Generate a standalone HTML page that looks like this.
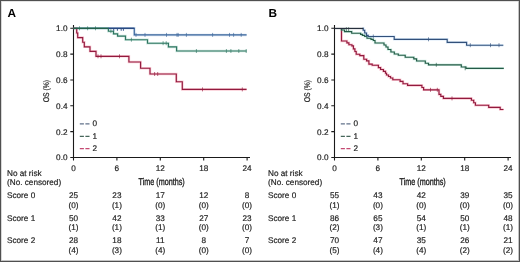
<!DOCTYPE html>
<html><head><meta charset="utf-8"><style>
html,body{margin:0;padding:0;background:#fff;}
svg{display:block;will-change:transform;}
text{font-family:"Liberation Sans", sans-serif;text-rendering:geometricPrecision;}
.t{stroke:#222;stroke-width:0.18;}
</style></head><body>
<svg width="520" height="262" viewBox="0 0 520 262">
<rect x="0" y="0" width="520" height="262" fill="#fff"/>
<text x="7.4" y="16.9" font-size="11.8" font-weight="bold" fill="#000">A</text>
<path d="M73.5,25 V157.5 H250" fill="none" stroke="#1a1a1a" stroke-width="1.1"/>
<path d="M70.3,157.50 H73.5 M70.3,131.66 H73.5 M70.3,105.82 H73.5 M70.3,79.98 H73.5 M70.3,54.14 H73.5 M70.3,28.30 H73.5 M73.50,157.5 V160.5 M116.90,157.5 V160.5 M160.30,157.5 V160.5 M203.70,157.5 V160.5 M247.10,157.5 V160.5 " fill="none" stroke="#1a1a1a" stroke-width="1.1"/>
<text x="67.5" y="160.40" text-anchor="end" font-size="8.2" fill="#222" class="t">0.0</text>
<text x="67.5" y="134.56" text-anchor="end" font-size="8.2" fill="#222" class="t">0.2</text>
<text x="67.5" y="108.72" text-anchor="end" font-size="8.2" fill="#222" class="t">0.4</text>
<text x="67.5" y="82.88" text-anchor="end" font-size="8.2" fill="#222" class="t">0.6</text>
<text x="67.5" y="57.04" text-anchor="end" font-size="8.2" fill="#222" class="t">0.8</text>
<text x="67.5" y="31.20" text-anchor="end" font-size="8.2" fill="#222" class="t">1.0</text>
<text x="73.50" y="170.8" text-anchor="middle" font-size="8.2" fill="#222" class="t">0</text>
<text x="116.90" y="170.8" text-anchor="middle" font-size="8.2" fill="#222" class="t">6</text>
<text x="160.30" y="170.8" text-anchor="middle" font-size="8.2" fill="#222" class="t">12</text>
<text x="203.70" y="170.8" text-anchor="middle" font-size="8.2" fill="#222" class="t">18</text>
<text x="247.10" y="170.8" text-anchor="middle" font-size="8.2" fill="#222" class="t">24</text>
<text transform="translate(49.0,91.1) rotate(-90) scale(0.83,1)" text-anchor="middle" font-size="8.2" fill="#222" stroke="#222" stroke-width="0.2">OS (%)</text>
<text transform="translate(161.6,184.8) scale(0.735,1)" text-anchor="middle" font-size="9.8" fill="#222" stroke="#222" stroke-width="0.35">Time (months)</text>
<path d="M79.8,123.9 H89.5" stroke="#62728a" stroke-width="1.15" stroke-dasharray="4.1 1.5"/>
<text x="92.4" y="126.20" font-size="8.2" fill="#222" class="t">0</text>
<path d="M79.8,136.3 H89.5" stroke="#46665a" stroke-width="1.15" stroke-dasharray="4.1 1.5"/>
<text x="92.4" y="139.00" font-size="8.2" fill="#222" class="t">1</text>
<path d="M79.8,148.6 H89.5" stroke="#c44a72" stroke-width="1.15" stroke-dasharray="4.1 1.5"/>
<text x="92.4" y="151.40" font-size="8.2" fill="#222" class="t">2</text>
<path d="M73.5,28.3 H134.3 V34.9 H246.6" fill="none" stroke="#6a9ad0" stroke-width="2.5" stroke-opacity="0.3"/>
<path d="M73.5,28.3 H134.3 V34.9 H246.6" fill="none" stroke="#3c679c" stroke-width="1.15" stroke-linejoin="miter"/>
<path d="M136.0,32.9 V36.9 M145.0,32.9 V36.9 M166.5,32.9 V36.9 M177.0,32.9 V36.9 M178.2,32.9 V36.9 M186.4,32.9 V36.9 M212.6,32.9 V36.9 M229.5,32.9 V36.9 M233.6,32.9 V36.9 M241.2,32.9 V36.9 " fill="none" stroke="#3c679c" stroke-width="0.8" stroke-opacity="0.8"/>
<path d="M73.5,28.3 H76.7 V33 H77.7 V37.6 H82.7 V42.2 H84.3 V46.8 H90 V51.3 H96 V56.3 H128.9 V62.0 H140.6 V68.2 H150 V74 H176.3 V81.7 H182.3 V89.4 H246.6" fill="none" stroke="#f05070" stroke-width="2.5" stroke-opacity="0.3"/>
<path d="M73.5,28.3 H76.7 V33 H77.7 V37.6 H82.7 V42.2 H84.3 V46.8 H90 V51.3 H96 V56.3 H128.9 V62.0 H140.6 V68.2 H150 V74 H176.3 V81.7 H182.3 V89.4 H246.6" fill="none" stroke="#921a3e" stroke-width="1.15" stroke-linejoin="miter"/>
<path d="M98,54.3 V58.3 M101,54.3 V58.3 M119.5,54.3 V58.3 M154.6,72 V76 M157.7,72 V76 M202.5,87.4 V91.4 M242.3,87.4 V91.4 " fill="none" stroke="#921a3e" stroke-width="0.8" stroke-opacity="0.8"/>
<path d="M73.5,28.3 H108.4 V31.2 H113.5 V33.8 H117.6 V36.1 H125.5 V39.7 H147.5 V43.2 H168.4 V46.9 H176.6 V51.0 H246.6" fill="none" stroke="#5fb39a" stroke-width="2.5" stroke-opacity="0.3"/>
<path d="M73.5,28.3 H108.4 V31.2 H113.5 V33.8 H117.6 V36.1 H125.5 V39.7 H147.5 V43.2 H168.4 V46.9 H176.6 V51.0 H246.6" fill="none" stroke="#2f7560" stroke-width="1.15" stroke-linejoin="miter"/>
<path d="M79.5,26.3 V30.3 M87.6,26.3 V30.3 M95.5,26.3 V30.3 M110.9,29.2 V33.2 M131.4,37.7 V41.7 M163.1,41.2 V45.2 M166.2,41.2 V45.2 M196.4,49.0 V53.0 M226.4,49.0 V53.0 M230.9,49.0 V53.0 M238.8,49.0 V53.0 M246.2,49.0 V53.0 " fill="none" stroke="#2f7560" stroke-width="0.8" stroke-opacity="0.8"/>
<text x="7.0" y="175.6" font-size="8.2" fill="#222" class="t">No at risk</text>
<text x="7.0" y="185.2" font-size="8.2" fill="#222" class="t">(No. censored)</text>
<text x="7.0" y="198.0" font-size="8.2" fill="#222" class="t">Score 0</text>
<text x="73.50" y="198.0" text-anchor="middle" font-size="8.2" fill="#222" class="t">25</text>
<text x="73.50" y="207.6" text-anchor="middle" font-size="8.2" fill="#222" class="t">(0)</text>
<text x="116.90" y="198.0" text-anchor="middle" font-size="8.2" fill="#222" class="t">23</text>
<text x="116.90" y="207.6" text-anchor="middle" font-size="8.2" fill="#222" class="t">(1)</text>
<text x="160.30" y="198.0" text-anchor="middle" font-size="8.2" fill="#222" class="t">17</text>
<text x="160.30" y="207.6" text-anchor="middle" font-size="8.2" fill="#222" class="t">(0)</text>
<text x="203.70" y="198.0" text-anchor="middle" font-size="8.2" fill="#222" class="t">12</text>
<text x="203.70" y="207.6" text-anchor="middle" font-size="8.2" fill="#222" class="t">(0)</text>
<text x="247.10" y="198.0" text-anchor="middle" font-size="8.2" fill="#222" class="t">8</text>
<text x="247.10" y="207.6" text-anchor="middle" font-size="8.2" fill="#222" class="t">(0)</text>
<text x="7.0" y="220.6" font-size="8.2" fill="#222" class="t">Score 1</text>
<text x="73.50" y="220.6" text-anchor="middle" font-size="8.2" fill="#222" class="t">50</text>
<text x="73.50" y="230.2" text-anchor="middle" font-size="8.2" fill="#222" class="t">(1)</text>
<text x="116.90" y="220.6" text-anchor="middle" font-size="8.2" fill="#222" class="t">42</text>
<text x="116.90" y="230.2" text-anchor="middle" font-size="8.2" fill="#222" class="t">(1)</text>
<text x="160.30" y="220.6" text-anchor="middle" font-size="8.2" fill="#222" class="t">33</text>
<text x="160.30" y="230.2" text-anchor="middle" font-size="8.2" fill="#222" class="t">(1)</text>
<text x="203.70" y="220.6" text-anchor="middle" font-size="8.2" fill="#222" class="t">27</text>
<text x="203.70" y="230.2" text-anchor="middle" font-size="8.2" fill="#222" class="t">(0)</text>
<text x="247.10" y="220.6" text-anchor="middle" font-size="8.2" fill="#222" class="t">23</text>
<text x="247.10" y="230.2" text-anchor="middle" font-size="8.2" fill="#222" class="t">(0)</text>
<text x="7.0" y="243.0" font-size="8.2" fill="#222" class="t">Score 2</text>
<text x="73.50" y="243.0" text-anchor="middle" font-size="8.2" fill="#222" class="t">28</text>
<text x="73.50" y="252.6" text-anchor="middle" font-size="8.2" fill="#222" class="t">(4)</text>
<text x="116.90" y="243.0" text-anchor="middle" font-size="8.2" fill="#222" class="t">18</text>
<text x="116.90" y="252.6" text-anchor="middle" font-size="8.2" fill="#222" class="t">(3)</text>
<text x="160.30" y="243.0" text-anchor="middle" font-size="8.2" fill="#222" class="t">11</text>
<text x="160.30" y="252.6" text-anchor="middle" font-size="8.2" fill="#222" class="t">(4)</text>
<text x="203.70" y="243.0" text-anchor="middle" font-size="8.2" fill="#222" class="t">8</text>
<text x="203.70" y="252.6" text-anchor="middle" font-size="8.2" fill="#222" class="t">(0)</text>
<text x="247.10" y="243.0" text-anchor="middle" font-size="8.2" fill="#222" class="t">7</text>
<text x="247.10" y="252.6" text-anchor="middle" font-size="8.2" fill="#222" class="t">(0)</text>
<text x="268.4" y="16.9" font-size="11.8" font-weight="bold" fill="#000">B</text>
<path d="M334.5,25 V157.5 H511" fill="none" stroke="#1a1a1a" stroke-width="1.1"/>
<path d="M331.3,157.50 H334.5 M331.3,131.66 H334.5 M331.3,105.82 H334.5 M331.3,79.98 H334.5 M331.3,54.14 H334.5 M331.3,28.30 H334.5 M334.50,157.5 V160.5 M377.90,157.5 V160.5 M421.30,157.5 V160.5 M464.70,157.5 V160.5 M508.10,157.5 V160.5 " fill="none" stroke="#1a1a1a" stroke-width="1.1"/>
<text x="328.5" y="160.40" text-anchor="end" font-size="8.2" fill="#222" class="t">0.0</text>
<text x="328.5" y="134.56" text-anchor="end" font-size="8.2" fill="#222" class="t">0.2</text>
<text x="328.5" y="108.72" text-anchor="end" font-size="8.2" fill="#222" class="t">0.4</text>
<text x="328.5" y="82.88" text-anchor="end" font-size="8.2" fill="#222" class="t">0.6</text>
<text x="328.5" y="57.04" text-anchor="end" font-size="8.2" fill="#222" class="t">0.8</text>
<text x="328.5" y="31.20" text-anchor="end" font-size="8.2" fill="#222" class="t">1.0</text>
<text x="334.50" y="170.8" text-anchor="middle" font-size="8.2" fill="#222" class="t">0</text>
<text x="377.90" y="170.8" text-anchor="middle" font-size="8.2" fill="#222" class="t">6</text>
<text x="421.30" y="170.8" text-anchor="middle" font-size="8.2" fill="#222" class="t">12</text>
<text x="464.70" y="170.8" text-anchor="middle" font-size="8.2" fill="#222" class="t">18</text>
<text x="508.10" y="170.8" text-anchor="middle" font-size="8.2" fill="#222" class="t">24</text>
<text transform="translate(310.0,91.1) rotate(-90) scale(0.83,1)" text-anchor="middle" font-size="8.2" fill="#222" stroke="#222" stroke-width="0.2">OS (%)</text>
<text transform="translate(422.6,184.8) scale(0.735,1)" text-anchor="middle" font-size="9.8" fill="#222" stroke="#222" stroke-width="0.35">Time (months)</text>
<path d="M340.8,123.9 H350.5" stroke="#62728a" stroke-width="1.15" stroke-dasharray="4.1 1.5"/>
<text x="353.4" y="126.20" font-size="8.2" fill="#222" class="t">0</text>
<path d="M340.8,136.3 H350.5" stroke="#46665a" stroke-width="1.15" stroke-dasharray="4.1 1.5"/>
<text x="353.4" y="139.00" font-size="8.2" fill="#222" class="t">1</text>
<path d="M340.8,148.6 H350.5" stroke="#c44a72" stroke-width="1.15" stroke-dasharray="4.1 1.5"/>
<text x="353.4" y="151.40" font-size="8.2" fill="#222" class="t">2</text>
<path d="M341.5,28.6 V41 H346.9 V42.8 H348.9 V44.7 H351.9 V45.9 H353.4 V48.9 H354.9 V51.5 H356.2 V54.2 H359.8 V55.6 H363.8 V59.2 H366.6 V60.9 H368.9 V64.2 H372.2 V65.2 H378.4 V67.6 H380.6 V69.5 H383.4 V71.3 H385.5 V73.2 H386.5 V75 H388.5 V76.5 H390.5 V78 H392.8 V79.7 H400.1 V81.4 H403 V83.7 H407.6 V85.4 H421.9 V87.5 H423.6 V89.8 H439 V94.4 H440.8 V96.3 H443.4 V98.4 H471.4 V100.2 H473.7 V102.7 H475.4 V105.2 H488.7 V107.4 H500.2 V109.5 H503.5" fill="none" stroke="#f05070" stroke-width="2.5" stroke-opacity="0.3"/>
<path d="M341.5,28.6 V41 H346.9 V42.8 H348.9 V44.7 H351.9 V45.9 H353.4 V48.9 H354.9 V51.5 H356.2 V54.2 H359.8 V55.6 H363.8 V59.2 H366.6 V60.9 H368.9 V64.2 H372.2 V65.2 H378.4 V67.6 H380.6 V69.5 H383.4 V71.3 H385.5 V73.2 H386.5 V75 H388.5 V76.5 H390.5 V78 H392.8 V79.7 H400.1 V81.4 H403 V83.7 H407.6 V85.4 H421.9 V87.5 H423.6 V89.8 H439 V94.4 H440.8 V96.3 H443.4 V98.4 H471.4 V100.2 H473.7 V102.7 H475.4 V105.2 H488.7 V107.4 H500.2 V109.5 H503.5" fill="none" stroke="#921a3e" stroke-width="1.15" stroke-linejoin="miter"/>
<path d="M430.5,87.8 V91.8 M437.3,87.8 V91.8 M452,96.4 V100.4 " fill="none" stroke="#921a3e" stroke-width="0.8" stroke-opacity="0.8"/>
<path d="M341.5,28.6 V30.0 H344.5 V31.6 H351.7 V33.2 H360.6 V34.3 H362.4 V35.3 H364.7 V36.5 H367 V38.2 H371 V39.3 H373.3 V40.5 H375 V43 H384 V45 H386 V47 H388 V49.5 H390.9 V52 H394.3 V54 H398.3 V55.2 H405.2 V57.2 H413.8 V58.9 H416.6 V61 H425.3 V63.2 H428.5 V64.8 H461.3 V67 H466 V68.3 H503.8" fill="none" stroke="#6fd0b0" stroke-width="2.5" stroke-opacity="0.3"/>
<path d="M341.5,28.6 V30.0 H344.5 V31.6 H351.7 V33.2 H360.6 V34.3 H362.4 V35.3 H364.7 V36.5 H367 V38.2 H371 V39.3 H373.3 V40.5 H375 V43 H384 V45 H386 V47 H388 V49.5 H390.9 V52 H394.3 V54 H398.3 V55.2 H405.2 V57.2 H413.8 V58.9 H416.6 V61 H425.3 V63.2 H428.5 V64.8 H461.3 V67 H466 V68.3 H503.8" fill="none" stroke="#245a46" stroke-width="1.15" stroke-linejoin="miter"/>
<path d="M346.4,27.2 V31.2 M348.6,27.2 V31.2 M436.3,62.8 V66.8 M465.2,66.3 V70.3 " fill="none" stroke="#245a46" stroke-width="0.8" stroke-opacity="0.8"/>
<path d="M362.6,28.2 H363.2 V30.2 H364.7 V33 H366.5 V35.3 H368.2 V36.5 H394.2 V39.3 H447.2 V42.4 H466.6 V45.2 H503.3" fill="none" stroke="#80b4e8" stroke-width="2.5" stroke-opacity="0.3"/>
<path d="M362.6,28.2 H363.2 V30.2 H364.7 V33 H366.5 V35.3 H368.2 V36.5 H394.2 V39.3 H447.2 V42.4 H466.6 V45.2 H503.3" fill="none" stroke="#32507a" stroke-width="1.15" stroke-linejoin="miter"/>
<path d="M373.3,34.5 V38.5 M428.5,37.3 V41.3 M470.3,43.2 V47.2 M490.5,43.2 V47.2 M499,43.2 V47.2 " fill="none" stroke="#32507a" stroke-width="0.8" stroke-opacity="0.8"/>
<text x="268.0" y="175.6" font-size="8.2" fill="#222" class="t">No at risk</text>
<text x="268.0" y="185.2" font-size="8.2" fill="#222" class="t">(No. censored)</text>
<text x="268.0" y="198.0" font-size="8.2" fill="#222" class="t">Score 0</text>
<text x="334.50" y="198.0" text-anchor="middle" font-size="8.2" fill="#222" class="t">55</text>
<text x="334.50" y="207.6" text-anchor="middle" font-size="8.2" fill="#222" class="t">(1)</text>
<text x="377.90" y="198.0" text-anchor="middle" font-size="8.2" fill="#222" class="t">43</text>
<text x="377.90" y="207.6" text-anchor="middle" font-size="8.2" fill="#222" class="t">(0)</text>
<text x="421.30" y="198.0" text-anchor="middle" font-size="8.2" fill="#222" class="t">42</text>
<text x="421.30" y="207.6" text-anchor="middle" font-size="8.2" fill="#222" class="t">(0)</text>
<text x="464.70" y="198.0" text-anchor="middle" font-size="8.2" fill="#222" class="t">39</text>
<text x="464.70" y="207.6" text-anchor="middle" font-size="8.2" fill="#222" class="t">(0)</text>
<text x="508.10" y="198.0" text-anchor="middle" font-size="8.2" fill="#222" class="t">35</text>
<text x="508.10" y="207.6" text-anchor="middle" font-size="8.2" fill="#222" class="t">(0)</text>
<text x="268.0" y="220.6" font-size="8.2" fill="#222" class="t">Score 1</text>
<text x="334.50" y="220.6" text-anchor="middle" font-size="8.2" fill="#222" class="t">86</text>
<text x="334.50" y="230.2" text-anchor="middle" font-size="8.2" fill="#222" class="t">(2)</text>
<text x="377.90" y="220.6" text-anchor="middle" font-size="8.2" fill="#222" class="t">65</text>
<text x="377.90" y="230.2" text-anchor="middle" font-size="8.2" fill="#222" class="t">(3)</text>
<text x="421.30" y="220.6" text-anchor="middle" font-size="8.2" fill="#222" class="t">54</text>
<text x="421.30" y="230.2" text-anchor="middle" font-size="8.2" fill="#222" class="t">(1)</text>
<text x="464.70" y="220.6" text-anchor="middle" font-size="8.2" fill="#222" class="t">50</text>
<text x="464.70" y="230.2" text-anchor="middle" font-size="8.2" fill="#222" class="t">(1)</text>
<text x="508.10" y="220.6" text-anchor="middle" font-size="8.2" fill="#222" class="t">48</text>
<text x="508.10" y="230.2" text-anchor="middle" font-size="8.2" fill="#222" class="t">(1)</text>
<text x="268.0" y="243.0" font-size="8.2" fill="#222" class="t">Score 2</text>
<text x="334.50" y="243.0" text-anchor="middle" font-size="8.2" fill="#222" class="t">70</text>
<text x="334.50" y="252.6" text-anchor="middle" font-size="8.2" fill="#222" class="t">(5)</text>
<text x="377.90" y="243.0" text-anchor="middle" font-size="8.2" fill="#222" class="t">47</text>
<text x="377.90" y="252.6" text-anchor="middle" font-size="8.2" fill="#222" class="t">(4)</text>
<text x="421.30" y="243.0" text-anchor="middle" font-size="8.2" fill="#222" class="t">35</text>
<text x="421.30" y="252.6" text-anchor="middle" font-size="8.2" fill="#222" class="t">(4)</text>
<text x="464.70" y="243.0" text-anchor="middle" font-size="8.2" fill="#222" class="t">26</text>
<text x="464.70" y="252.6" text-anchor="middle" font-size="8.2" fill="#222" class="t">(2)</text>
<text x="508.10" y="243.0" text-anchor="middle" font-size="8.2" fill="#222" class="t">21</text>
<text x="508.10" y="252.6" text-anchor="middle" font-size="8.2" fill="#222" class="t">(2)</text>
<path d="M73.5,28.3 H108.4" stroke="#24604a" stroke-width="1.3" fill="none"/>
<path d="M108.4,28.3 H134.4" stroke="#2a4a82" stroke-width="1.4" fill="none"/>
<path d="M113.7,28.5 V30.8 M117.4,28.5 V30.8 M121.2,28.5 V30.8 M123.4,28.5 V30.8" stroke="#2a4a80" stroke-width="0.9" fill="none"/>
<path d="M334.5,28.45 H363.2" stroke="#262f3c" stroke-width="1.3" fill="none"/>
<rect x="0" y="1" width="520" height="1" fill="#e4e4e4"/>
<rect x="1" y="0" width="1" height="262" fill="#d8d8d8"/>
<rect x="518" y="0" width="1" height="262" fill="#c4c4c4"/>
<rect x="0" y="260" width="520" height="1" fill="#c4c4c4"/>
<rect x="0" y="0" width="520" height="1" fill="#505050"/>
<rect x="0" y="0" width="1" height="262" fill="#505050"/>
<rect x="519" y="0" width="1" height="262" fill="#505050"/>
<rect x="0" y="261" width="520" height="1" fill="#505050"/>
</svg>
</body></html>
